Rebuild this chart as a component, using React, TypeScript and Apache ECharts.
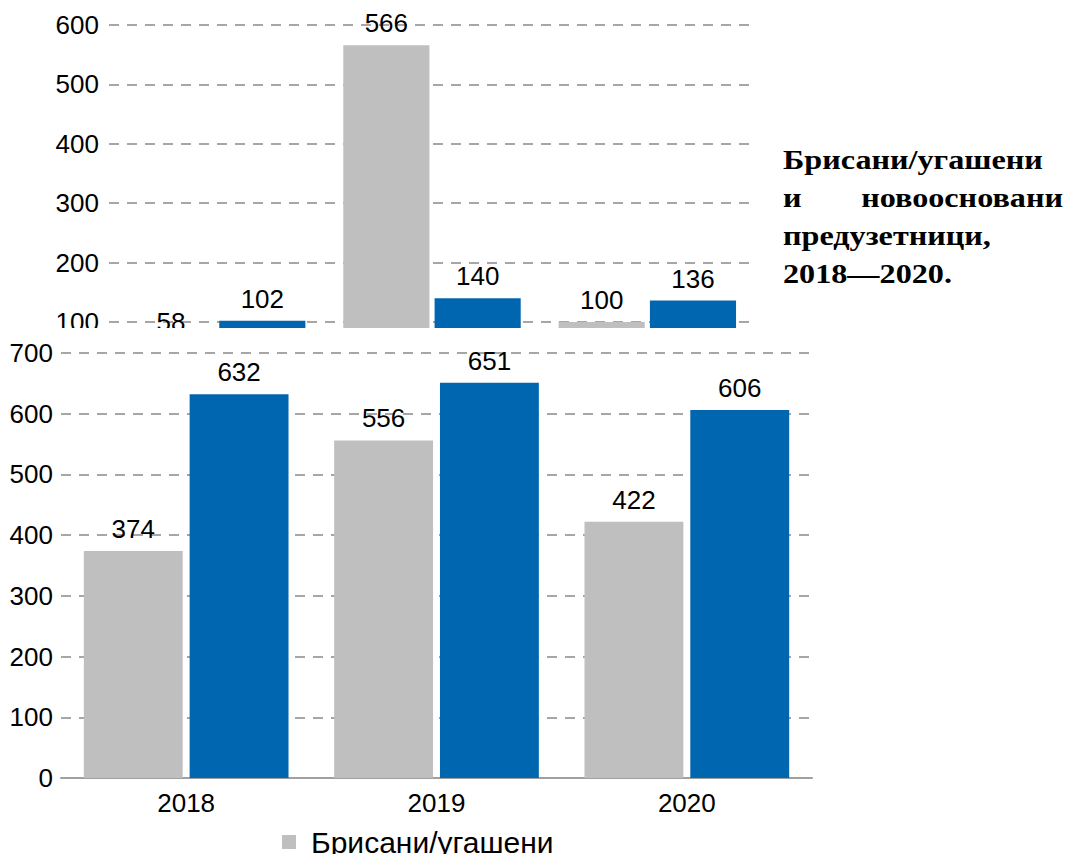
import React, { useEffect, useRef } from "react";
import * as echarts from "echarts";

// ---- data ----
const categories = ["2018", "2019", "2020"];
const seriesNames = ["Брисани/угашени", "Новоосновани"];
const topDeleted = [58, 566, 100];
const topNew = [102, 140, 136];
const bottomDeleted = [374, 556, 422];
const bottomNew = [632, 651, 606];
const topAxis = { min: 0, max: 600, interval: 100 };
const bottomAxis = { min: 0, max: 700, interval: 100 };
const titleLines = ["Брисани/угашени", "и", "новоосновани", "предузетници,", "2018—2020."];

const GREY = "#bfbfbf";
const BLUE = "#0066b0";
const GRID = "#a6a6a6";
const SANS = "'Liberation Sans', Arial, sans-serif";
const SERIF = "'Liberation Serif', 'Times New Roman', serif";
const FS = 26;

const labelStyle = {
  show: true,
  position: "top",
  distance: 9,
  color: "#000",
  fontSize: FS,
  fontFamily: SANS,
};

const splitLine = {
  show: true,
  lineStyle: { color: GRID, width: 2, type: [10, 8] },
};

function useChart(build: () => any) {
  const ref = useRef<HTMLDivElement>(null);
  useEffect(() => {
    if (!ref.current) return;
    const chart = echarts.init(ref.current, undefined, { renderer: "svg" });
    chart.setOption(build());
    return () => chart.dispose();
  }, []);
  return ref;
}

const titleFont = `bold 28px ${SERIF}`;
const SX = 1.15;

function TopChart() {
  const ref = useChart(() => ({
    animation: false,
    backgroundColor: "#fff",
    grid: { left: 109, width: 646, top: 25, height: 356.4 },
    xAxis: {
      type: "category",
      data: categories,
      axisLine: { show: false },
      axisTick: { show: false },
      axisLabel: { show: false },
    },
    yAxis: {
      type: "value",
      min: topAxis.min,
      max: topAxis.max,
      interval: topAxis.interval,
      axisLine: { show: false },
      axisTick: { show: false },
      axisLabel: {
        color: "#000",
        fontSize: FS,
        fontFamily: SANS,
        margin: 10,
        formatter: (v: number) => (v === 0 ? "" : String(v)),
      },
      splitLine,
    },
    series: [
      {
        name: seriesNames[0],
        type: "bar",
        barWidth: "40%",
        barGap: "6%",
        itemStyle: { color: GREY },
        label: labelStyle,
        data: topDeleted.map((v, i) =>
          i === 0 ? { value: v, label: { offset: [0, -3] } } : v
        ),
      },
      {
        name: seriesNames[1],
        type: "bar",
        barWidth: "40%",
        barGap: "6%",
        itemStyle: { color: BLUE },
        label: labelStyle,
        data: topNew,
      },
    ],
    graphic: [
      {
        type: "group",
        x: 783,
        y: 146,
        scaleX: SX,
        children: [
          { type: "text", x: 0, y: 0, style: { text: titleLines[0], font: titleFont, fill: "#000" } },
          { type: "text", x: 0, y: 38, style: { text: titleLines[1], font: titleFont, fill: "#000" } },
          { type: "text", x: 280 / SX, y: 38, style: { text: titleLines[2], font: titleFont, fill: "#000", align: "right" } },
          { type: "text", x: 0, y: 76, style: { text: titleLines[3], font: titleFont, fill: "#000" } },
          { type: "text", x: 0, y: 114, style: { text: titleLines[4], font: titleFont, fill: "#000" } },
        ],
      },
    ],
  }));
  return <div ref={ref} style={{ width: 1067, height: 400 }} />;
}

function BottomChart() {
  const ref = useChart(() => ({
    animation: false,
    backgroundColor: "#fff",
    grid: { left: 61, width: 751, top: 25, height: 425 },
    legend: {
      data: [seriesNames[0]],
      left: 277,
      top: 494,
      icon: "rect",
      itemWidth: 14,
      itemHeight: 14,
      textStyle: { color: "#000", fontSize: 30, fontFamily: SANS, padding: [0, 0, 0, 10] },
    },
    xAxis: {
      type: "category",
      data: categories,
      axisLine: { show: true, lineStyle: { color: "#a0a0a0", width: 2 } },
      axisTick: { show: false },
      axisLabel: { color: "#000", fontSize: FS, fontFamily: SANS, margin: 12 },
    },
    yAxis: {
      type: "value",
      min: bottomAxis.min,
      max: bottomAxis.max,
      interval: bottomAxis.interval,
      axisLine: { show: false },
      axisTick: { show: false },
      axisLabel: { color: "#000", fontSize: FS, fontFamily: SANS, margin: 8 },
      splitLine,
    },
    series: [
      {
        name: seriesNames[0],
        type: "bar",
        barWidth: "39.5%",
        barGap: "7%",
        itemStyle: { color: GREY },
        label: labelStyle,
        data: bottomDeleted,
      },
      {
        name: seriesNames[1],
        type: "bar",
        barWidth: "39.5%",
        barGap: "7%",
        itemStyle: { color: BLUE },
        label: labelStyle,
        data: bottomNew,
      },
    ],
  }));
  return <div ref={ref} style={{ width: 1067, height: 526 }} />;
}

export default function App() {
  return (
    <div style={{ position: "fixed", left: 0, top: 0, width: 1067, height: 854, background: "#fff", overflow: "hidden" }}>
      <div style={{ position: "absolute", left: 0, top: 0, width: 1067, height: 328, overflow: "hidden" }}>
        <TopChart />
      </div>
      <div style={{ position: "absolute", left: 0, top: 328, width: 1067, height: 526 }}>
        <BottomChart />
      </div>
    </div>
  );
}
